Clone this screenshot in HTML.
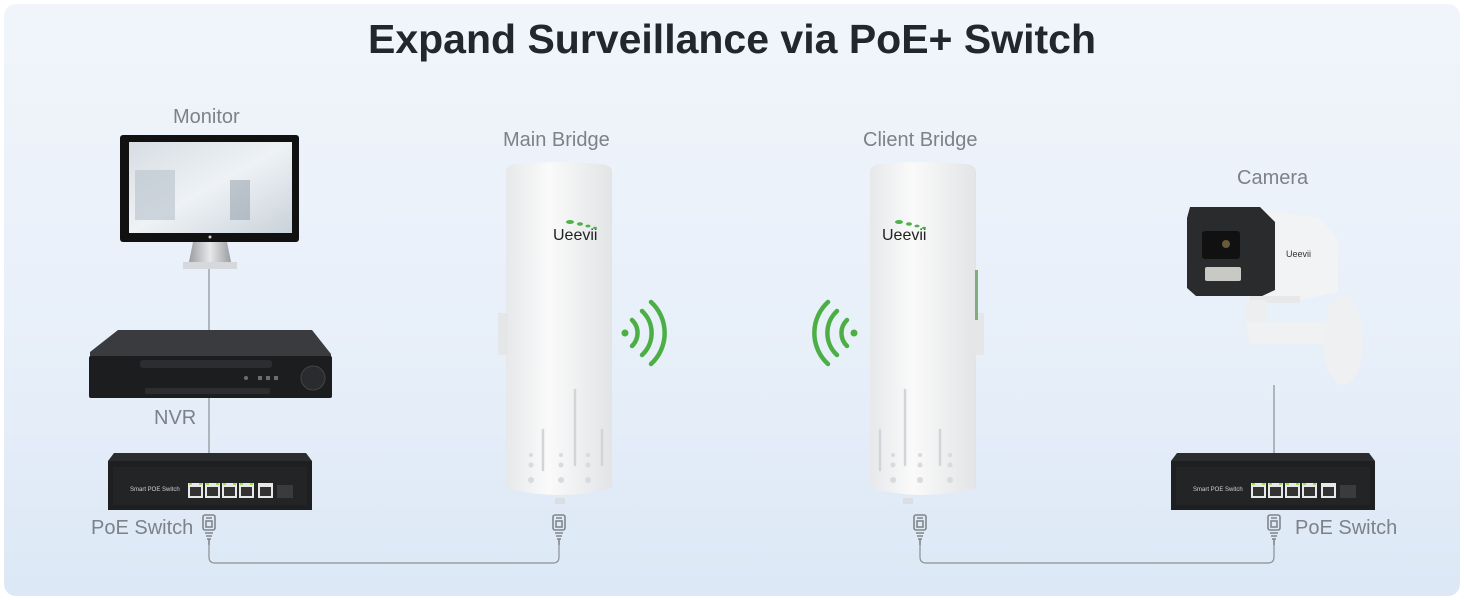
<!DOCTYPE html>
<html><head><meta charset="utf-8"><style>
html,body{margin:0;padding:0;width:1464px;height:600px;overflow:hidden;background:#fff}
.card{position:absolute;left:4px;top:4px;width:1456px;height:592px;border-radius:12px;background:linear-gradient(180deg,#f1f5fb 0%,#e7eff9 60%,#dce8f6 100%)}
.t{position:absolute;font-family:"Liberation Sans",sans-serif;color:#7d8189;font-size:20px;white-space:nowrap}
h1{position:absolute;left:0;width:1464px;top:16px;margin:0;text-align:center;font-family:"Liberation Sans",sans-serif;font-weight:bold;font-size:41px;color:#23262b}
svg{position:absolute;left:0;top:0}
</style></head><body>
<div class="card"></div>
<h1>Expand Surveillance via PoE+ Switch</h1>
<svg width="1464" height="600" viewBox="0 0 1464 600">
<defs>
<linearGradient id="scr" x1="0" y1="0" x2="1" y2="1"><stop offset="0" stop-color="#d7dde3"/><stop offset=".5" stop-color="#eef2f5"/><stop offset="1" stop-color="#c9d2da"/></linearGradient>
<linearGradient id="br" x1="0" x2="1"><stop offset="0" stop-color="#e6e8ea"/><stop offset=".4" stop-color="#fafafa"/><stop offset="1" stop-color="#e2e4e6"/></linearGradient>
<linearGradient id="st" x1="0" x2="1"><stop offset="0" stop-color="#9a9da1"/><stop offset=".5" stop-color="#e7e8ea"/><stop offset="1" stop-color="#9a9da1"/></linearGradient>
<g id="sw">
<path d="M6 0 H198 L204 8 V57 H0 V8 Z" fill="#2b2c2e"/>
<rect x="0" y="8" width="204" height="49" fill="#1e1f21"/>
<rect x="5" y="14" width="194" height="38" fill="#232426"/>
<text x="22" y="38" font-family="Liberation Sans" font-size="6" fill="#cfd0d2">Smart POE Switch</text>
<g fill="#e8e8e8"><rect x="80" y="30" width="15" height="15"/><rect x="97" y="30" width="15" height="15"/><rect x="114" y="30" width="15" height="15"/><rect x="131" y="30" width="15" height="15"/><rect x="150" y="30" width="15" height="15"/></g>
<g fill="#333"><rect x="82" y="34" width="11" height="9"/><rect x="99" y="34" width="11" height="9"/><rect x="116" y="34" width="11" height="9"/><rect x="133" y="34" width="11" height="9"/><rect x="152" y="34" width="11" height="9"/></g>
<g fill="#9be04a"><rect x="81" y="30" width="3" height="2"/><rect x="91" y="30" width="3" height="2"/><rect x="98" y="30" width="3" height="2"/><rect x="108" y="30" width="3" height="2"/><rect x="115" y="30" width="3" height="2"/><rect x="125" y="30" width="3" height="2"/><rect x="132" y="30" width="3" height="2"/><rect x="142" y="30" width="3" height="2"/></g>
<rect x="169" y="32" width="16" height="13" fill="#3a3b3d"/>
</g>
<g id="rj" fill="none" stroke="#80858c" stroke-width="1.6">
<rect x="-6" y="0" width="12" height="15" rx="2"/>
<rect x="-3" y="6" width="6" height="6"/>
<path d="M-3 3H3M-4 18H4M-3 21H3M-2 24H2M0 24V30"/>
</g>
</defs>
<g fill="none" stroke="#8b8f95" stroke-width="1.2">
<path d="M209 268V330M209 398V453M1274 385V453"/>
<path d="M209 545V557Q209 563 215 563H553Q559 563 559 557V545"/>
<path d="M920 545V557Q920 563 926 563H1268Q1274 563 1274 557V545"/>
</g>
<use href="#rj" x="209" y="515"/><use href="#rj" x="559" y="515"/><use href="#rj" x="920" y="515"/><use href="#rj" x="1274" y="515"/>
<rect x="120" y="135" width="179" height="107" rx="3" fill="#111"/>
<rect x="129" y="142" width="163" height="91" fill="url(#scr)"/>
<rect x="135" y="170" width="40" height="50" fill="#b8c2cc" opacity=".6"/>
<rect x="230" y="180" width="20" height="40" fill="#8e9aa6" opacity=".5"/>
<circle cx="210" cy="237" r="1.5" fill="#ccc"/>
<path d="M193 242H227L231 262H189Z" fill="url(#st)"/>
<path d="M183 262H237V269H183Z" fill="#d6d8db"/>
<path d="M118 330H312L331 354V360H90V352Z" fill="#3a3b3e"/>
<rect x="89" y="356" width="243" height="42" rx="2" fill="#1c1d1f"/>
<rect x="140" y="360" width="132" height="8" rx="3" fill="#2c2d30"/>
<rect x="145" y="388" width="125" height="6" rx="2" fill="#2c2d30"/>
<circle cx="313" cy="378" r="12" fill="#2a2b2e" stroke="#444" stroke-width="1"/>
<g fill="#6b6d70"><rect x="258" y="376" width="4" height="4"/><rect x="266" y="376" width="4" height="4"/><rect x="274" y="376" width="4" height="4"/><circle cx="246" cy="378" r="2"/></g>
<use href="#sw" x="108" y="453"/>
<use href="#sw" x="1171" y="453"/>
<path d="M506 172Q506 164 520 164Q559 160 598 164Q612 164 612 172V488Q559 502 506 488Z" fill="url(#br)"/>
<rect x="498" y="313" width="10" height="42" fill="#e4e6e8"/>
<rect x="555" y="498" width="10" height="6" fill="#dcdfe2"/>
<g stroke="#d2d5d8" stroke-width="2.5" stroke-linecap="round"><path d="M575 390V465M543 430V470M602 430V465"/></g>
<g fill="#d8dadd"><circle cx="531" cy="455" r="2"/><circle cx="531" cy="465" r="2.5"/><circle cx="531" cy="480" r="3"/><circle cx="561" cy="455" r="2"/><circle cx="561" cy="465" r="2.5"/><circle cx="561" cy="480" r="3"/><circle cx="588" cy="455" r="2"/><circle cx="588" cy="465" r="2.5"/><circle cx="588" cy="480" r="3"/></g>
<text x="553" y="240" font-family="Liberation Sans" font-size="16" fill="#222">Ueevii</text>
<g fill="#4fb248"><ellipse cx="570" cy="222" rx="4" ry="2"/><ellipse cx="580" cy="224" rx="3" ry="1.7"/><ellipse cx="588" cy="226" rx="2.5" ry="1.4"/><ellipse cx="595" cy="228" rx="2" ry="1.2"/></g>
<path d="M870 172Q870 164 884 164Q923 160 962 164Q976 164 976 172V488Q923 502 870 488Z" fill="url(#br)"/>
<rect x="974" y="313" width="10" height="42" fill="#e4e6e8"/>
<rect x="975" y="270" width="3" height="50" fill="#7fae7c"/>
<rect x="903" y="498" width="10" height="6" fill="#dcdfe2"/>
<g stroke="#d2d5d8" stroke-width="2.5" stroke-linecap="round"><path d="M905 390V465M880 430V470M940 430V465"/></g>
<g fill="#d8dadd"><circle cx="893" cy="455" r="2"/><circle cx="893" cy="465" r="2.5"/><circle cx="893" cy="480" r="3"/><circle cx="920" cy="455" r="2"/><circle cx="920" cy="465" r="2.5"/><circle cx="920" cy="480" r="3"/><circle cx="950" cy="455" r="2"/><circle cx="950" cy="465" r="2.5"/><circle cx="950" cy="480" r="3"/></g>
<text x="882" y="240" font-family="Liberation Sans" font-size="16" fill="#222">Ueevii</text>
<g fill="#4fb248"><ellipse cx="899" cy="222" rx="4" ry="2"/><ellipse cx="909" cy="224" rx="3" ry="1.7"/><ellipse cx="917" cy="226" rx="2.5" ry="1.4"/><ellipse cx="924" cy="228" rx="2" ry="1.2"/></g>
<g fill="none" stroke="#4caf45" stroke-width="4.5" stroke-linecap="round">
<circle cx="625" cy="333" r="3.5" fill="#4caf45" stroke="none"/>
<path d="M632 320A18 18 0 0 1 632 346"/><path d="M642 311A30 30 0 0 1 642 355"/><path d="M651 302A42 42 0 0 1 651 364"/>
<circle cx="854" cy="333" r="3.5" fill="#4caf45" stroke="none"/>
<path d="M847 320A18 18 0 0 0 847 346"/><path d="M837 311A30 30 0 0 0 837 355"/><path d="M828 302A42 42 0 0 0 828 364"/>
</g>
<path d="M1265 210L1320 218L1338 240V292L1300 300H1265Z" fill="#f2f3f4"/>
<path d="M1190 207H1260L1275 222V290L1262 296H1196L1187 288V218Z" fill="#2a2b2d"/>
<rect x="1202" y="231" width="38" height="28" rx="3" fill="#111"/>
<circle cx="1226" cy="244" r="4" fill="#6b5a3a"/>
<rect x="1205" y="267" width="36" height="14" rx="2" fill="#c8c8c4"/>
<path d="M1250 296H1300V303H1250Z" fill="#e6e8ea"/>
<rect x="1245" y="300" width="22" height="28" rx="4" fill="#eceeef"/>
<path d="M1245 322H1345V344H1250Z" fill="#f0f1f2"/>
<ellipse cx="1343" cy="340" rx="20" ry="45" fill="#eef0f2"/>
<text x="1286" y="257" font-family="Liberation Sans" font-size="9" fill="#333">Ueevii</text>
</svg>
<div class="t" style="left:173px;top:106px">Monitor</div>
<div class="t" style="left:154px;top:407px">NVR</div>
<div class="t" style="left:91px;top:517px">PoE Switch</div>
<div class="t" style="left:503px;top:129px">Main Bridge</div>
<div class="t" style="left:863px;top:129px">Client Bridge</div>
<div class="t" style="left:1237px;top:167px">Camera</div>
<div class="t" style="left:1295px;top:517px">PoE Switch</div>
</body></html>
